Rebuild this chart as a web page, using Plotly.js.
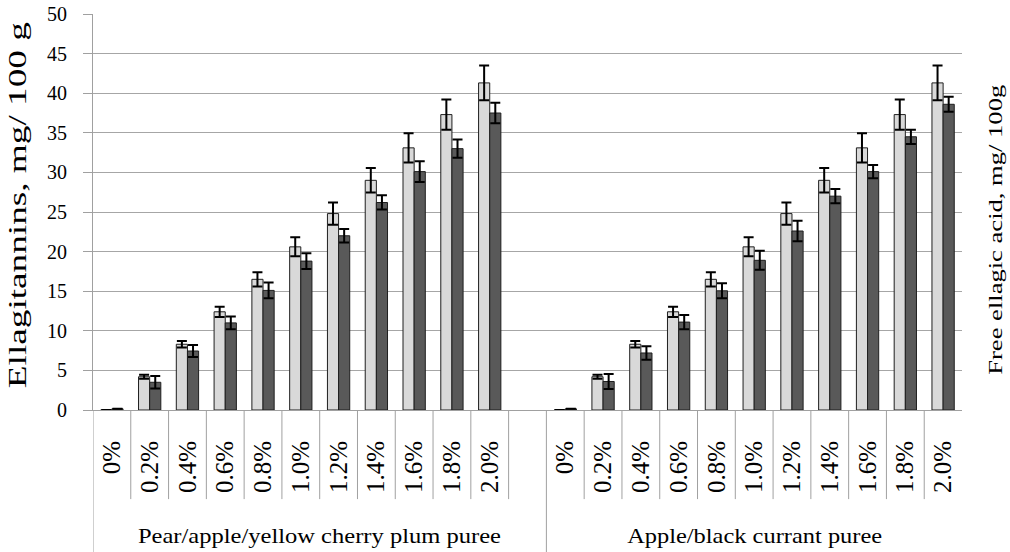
<!DOCTYPE html>
<html>
<head>
<meta charset="utf-8">
<script src="https://cdn.plot.ly/plotly-3.0.1.min.js"></script>
<style>
html, body { margin: 0; padding: 0; background: #fff; }
#chart { width: 1010px; height: 552px; }
</style>
</head>
<body>
<div id="chart"></div>
<script>
// ---- data ----
const categories = ['0%', '0.2%', '0.4%', '0.6%', '0.8%', '1.0%', '1.2%', '1.4%', '1.6%', '1.8%', '2.0%'];
const groups = ['Pear/apple/yellow cherry plum puree', 'Apple/black currant puree'];

const ellagitannins1 = [0, 4.2, 8.3, 12.4, 16.5, 20.6, 24.8, 29.0, 33.1, 37.3, 41.3];
const ellagitanninsErr1 = [0, 0.25, 0.4, 0.65, 0.9, 1.2, 1.4, 1.55, 1.85, 1.9, 2.2];
const ellagicAcid1 = [0.15, 3.5, 7.45, 11.0, 15.1, 18.8, 22.0, 26.2, 30.1, 33.0, 37.5];
const ellagicAcidErr1 = [0, 0.8, 0.75, 0.8, 1.0, 1.0, 0.85, 0.9, 1.3, 1.15, 1.3];

const ellagitannins2 = [0, 4.2, 8.3, 12.4, 16.5, 20.6, 24.8, 29.0, 33.1, 37.3, 41.3];
const ellagitanninsErr2 = [0, 0.25, 0.4, 0.65, 0.9, 1.2, 1.4, 1.55, 1.85, 1.9, 2.2];
const ellagicAcid2 = [0.15, 3.6, 7.2, 11.1, 15.05, 18.9, 22.6, 27.0, 30.1, 34.5, 38.6];
const ellagicAcidErr2 = [0, 0.95, 0.85, 0.9, 0.95, 1.2, 1.3, 0.9, 0.85, 0.9, 0.95];

const yTitleLeft = 'Ellagitannins, mg/ 100 g';
const yTitleRight = 'Free ellagic acid, mg/ 100g';

// ---- layout helpers (slot positions on a numeric axis) ----
const n = categories.length;
const gapSlots = 1;                       // one empty slot after the first group
const pos1 = categories.map((c, i) => i);
const pos2 = categories.map((c, i) => n + gapSlots + i);
const allPos = pos1.concat(pos2);
const allLabels = categories.concat(categories);

const FONT = 'Liberation Serif, Times New Roman, serif';
const LIGHT = '#d9d9d9', DARK = '#595959', EDGE = '#1f1f1f';

function barTrace(x, y, err, color, name) {
  return {
    type: 'bar', x: x, y: y, name: name,
    marker: { color: color, line: { color: EDGE, width: 1 } },
    error_y: { type: 'data', array: err, visible: true, color: '#000', thickness: 2, width: 5 },
    showlegend: false, hoverinfo: 'y'
  };
}

const traces = [
  barTrace(pos1.concat(pos2), ellagitannins1.concat(ellagitannins2), ellagitanninsErr1.concat(ellagitanninsErr2), LIGHT, 'Ellagitannins'),
  barTrace(pos1.concat(pos2), ellagicAcid1.concat(ellagicAcid2), ellagicAcidErr1.concat(ellagicAcidErr2), DARK, 'Free ellagic acid')
];

// table-like separators under the category axis
const shapes = [];
const lineStyle = { color: '#a0a0a0', width: 1 };
const shortY = -0.225, longY = -0.4;
[pos1[0] - 0.5, pos2[0] - 0.5].forEach(xv => shapes.push({
  type: 'line', xref: 'x', yref: 'paper', x0: xv, x1: xv, y0: 0, y1: longY, line: lineStyle
}));
pos1.forEach(p => shapes.push({ type: 'line', xref: 'x', yref: 'paper', x0: p + 0.5, x1: p + 0.5, y0: 0, y1: shortY, line: lineStyle }));
pos2.slice(0, -1).forEach(p => shapes.push({ type: 'line', xref: 'x', yref: 'paper', x0: p + 0.5, x1: p + 0.5, y0: 0, y1: shortY, line: lineStyle }));

// annotations: group labels and both axis titles (stretched to the reference's text lengths)
const annotations = [
  { text: groups[0], xref: 'x', yref: 'paper', x: (pos1[0] - 0.5 + pos2[0] - 0.5) / 2, y: -0.3187,
    showarrow: false, xanchor: 'center', yanchor: 'middle', font: { family: FONT, size: 21, color: '#000' } },
  { text: groups[1], xref: 'x', yref: 'paper', x: (pos2[0] - 0.5 + pos2[pos2.length - 1] + 0.5) / 2, y: -0.3187,
    showarrow: false, xanchor: 'center', yanchor: 'middle', font: { family: FONT, size: 21, color: '#000' } },
  { text: yTitleLeft, xref: 'paper', yref: 'paper', x: -0.0863, y: 0.5177, textangle: -90,
    showarrow: false, xanchor: 'center', yanchor: 'middle', font: { family: FONT, size: 26, color: '#000' } },
  { text: yTitleRight, xref: 'paper', yref: 'paper', x: 1.0391, y: 0.4545, textangle: -90,
    showarrow: false, xanchor: 'center', yanchor: 'middle', font: { family: FONT, size: 18, color: '#000' } }
];
const stretchTo = [363, 255, 366, 290];

const layout = {
  width: 1010, height: 552,
  margin: { l: 93, r: 48, t: 14, b: 142 },
  paper_bgcolor: '#fff', plot_bgcolor: '#fff',
  barmode: 'group', bargap: 0.41, bargroupgap: 0,
  font: { family: FONT, color: '#000' },
  xaxis: {
    range: [-0.5, allPos[allPos.length - 1] + 0.5],
    tickmode: 'array', tickvals: allPos, ticktext: allLabels,
    tickangle: -90, ticks: '', ticklabelstandoff: 20,
    tickfont: { family: FONT, size: 25, color: '#000' },
    showgrid: false, zeroline: false,
    showline: true, linecolor: '#a0a0a0', linewidth: 1
  },
  yaxis: {
    range: [0, 50], dtick: 5, tick0: 0,
    ticks: 'outside', ticklen: 9, tickcolor: '#a0a0a0', tickwidth: 1,
    ticklabelstandoff: 12,
    tickfont: { family: FONT, size: 20, color: '#000' },
    showgrid: true, gridcolor: '#a6a6a6', gridwidth: 1,
    zeroline: false, showline: true, linecolor: '#a0a0a0', linewidth: 1
  },
  shapes: shapes,
  annotations: annotations
};

Plotly.newPlot('chart', traces, layout, { displayModeBar: false, staticPlot: true }).then(gd => {
  stretchTo.forEach((len, i) => {
    const t = gd.querySelector('.annotation[data-index="' + i + '"] .annotation-text');
    if (t) {
      t.setAttribute('textLength', len);
      t.setAttribute('lengthAdjust', 'spacingAndGlyphs');
    }
  });
});
</script>
</body>
</html>
